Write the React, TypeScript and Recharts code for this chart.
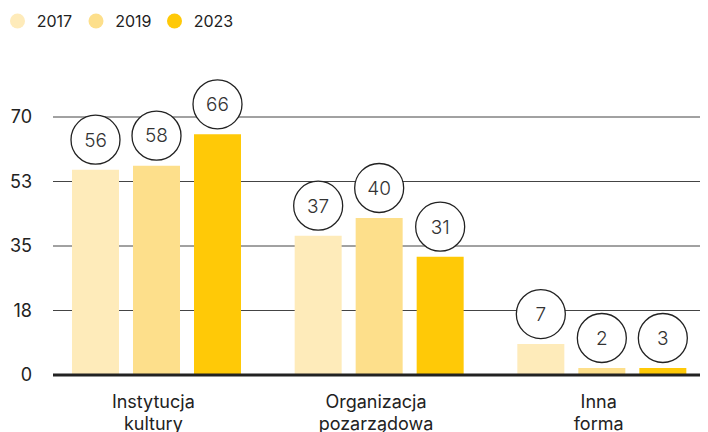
import React from "react";
import { BarChart, Bar, XAxis, YAxis, CartesianGrid, LabelList } from "recharts";

const categories = ["Instytucja kultury", "Organizacja pozarządowa", "Inna forma"];
const values2017 = [55.7, 37.8, 8.4];
const values2019 = [56.8, 42.6, 1.9];
const values2023 = [65.3, 32.1, 1.9];
const labels2017 = ["56", "37", "7"];
const labels2019 = ["58", "40", "2"];
const labels2023 = ["66", "31", "3"];
const yTicks = [0, 17.5, 35, 52.5, 70];
const seriesNames = ["2017", "2019", "2023"];
const colors = ["#FEEBBA", "#FDDF8B", "#FFC907"];

const data = categories.map((c, i) => ({
  name: c,
  v2017: values2017[i],
  v2019: values2019[i],
  v2023: values2023[i],
  l2017: labels2017[i],
  l2019: labels2019[i],
  l2023: labels2023[i],
}));

const FONT = "Inter, 'Noto Sans', sans-serif";

const CircleLabel = (props: any) => {
  const vb = props.viewBox || props;
  const x = Number(vb.x ?? props.x);
  const y = Number(vb.y ?? props.y);
  const w = Number(vb.width ?? props.width);
  const cx = x + w / 2;
  const cy = y - 30;
  return (
    <g>
      <circle cx={cx} cy={cy} r={24.5} fill="#fff" stroke="#222" strokeWidth={1.3} />
      <text
        x={cx}
        y={cy}
        dy="0.36em"
        textAnchor="middle"
        fontFamily={FONT}
        fontSize={19}
        fontWeight={300}
        fill="#333"
      >
        {props.value}
      </text>
    </g>
  );
};

const CategoryTick = (props: any) => {
  const { x, y, payload } = props;
  const words = String(payload.value).split(" ");
  return (
    <text x={x - 3} y={y} textAnchor="middle" fontFamily={FONT} fontSize={18} fill="#222">
      {words.map((wd, i) => (
        <tspan key={i} x={x - 3} y={y + 33 + i * 21.5}>
          {wd}
        </tspan>
      ))}
    </text>
  );
};

const LegendBlock = () => (
  <svg width={260} height={30} style={{ display: "block", position: "absolute", top: 0, left: 0 }}>
    {seriesNames.map((n, i) => (
      <g key={n}>
        <circle cx={9.5 + i * 78.5} cy={13} r={7.5} fill={colors[i]} />
        <text x={28.7 + i * 78.5} y={18.7} fontFamily={FONT} fontSize={16} fill="#222">
          {n}
        </text>
      </g>
    ))}
  </svg>
);

export default function App() {
  return (
    <div style={{ width: 700, height: 424, position: "relative" }}>
      <BarChart
        width={700}
        height={424}
        data={data}
        margin={{ top: 109, right: 0, left: 0, bottom: 0 }}
        barSize={47}
        barGap={14}
      >
        <CartesianGrid horizontal vertical={false} stroke="#444" strokeWidth={1} />
        <XAxis
          dataKey="name"
          height={57}
          tickLine={false}
          tickSize={0}
          tickMargin={0}
          padding={{ left: -8, right: -5 }}
          axisLine={{ stroke: "#222", strokeWidth: 3 }}
          tick={<CategoryTick />}
          interval={0}
        />
        <YAxis
          width={45}
          domain={[0, 70]}
          ticks={yTicks}
          tickFormatter={(v: number) => String(Math.round(v))}
          axisLine={false}
          tickLine={false}
          tickSize={0}
          tickMargin={21}
          tick={{ fontFamily: FONT, fontSize: 18, fill: "#222" }}
          interval={0}
        />
        <Bar dataKey="v2017" fill={colors[0]} isAnimationActive={false}>
          <LabelList dataKey="l2017" content={<CircleLabel />} />
        </Bar>
        <Bar dataKey="v2019" fill={colors[1]} isAnimationActive={false}>
          <LabelList dataKey="l2019" content={<CircleLabel />} />
        </Bar>
        <Bar dataKey="v2023" fill={colors[2]} isAnimationActive={false}>
          <LabelList dataKey="l2023" content={<CircleLabel />} />
        </Bar>
      </BarChart>
      <LegendBlock />
    </div>
  );
}
